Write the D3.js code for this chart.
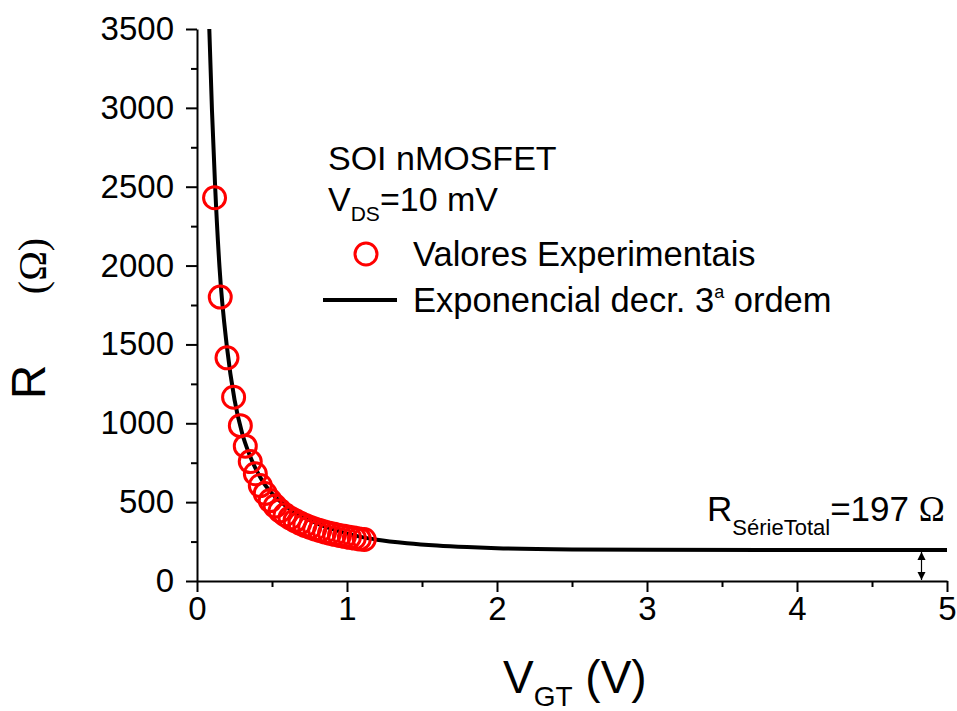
<!DOCTYPE html>
<html>
<head>
<meta charset="utf-8">
<script src="https://cdn.jsdelivr.net/npm/d3@7"></script>
<style>
  body { margin: 0; background: #fff; }
  text { font-family: "Liberation Sans", Arial, sans-serif; fill: #000; }
  .omega { font-family: "Liberation Serif", "DejaVu Serif", serif; }
</style>
</head>
<body>
<script>
// experimental points (V_GT in V, R in ohm)
var vgtExp = [0.117, 0.155, 0.200, 0.244, 0.289, 0.322, 0.355, 0.389, 0.422, 0.455,
              0.488, 0.521, 0.554, 0.587, 0.620, 0.653, 0.686, 0.719, 0.752, 0.785,
              0.818, 0.851, 0.884, 0.917, 0.950, 0.983, 1.016, 1.049, 1.082, 1.115];
var rExp   = [2430, 1800, 1415, 1165, 985, 855, 757, 680, 605, 555,
              510, 475, 445, 420, 400, 383, 367, 353, 341, 330,
              320, 311, 303, 296, 289, 283, 277, 272, 267, 263];

// fitted curve
var vgtFit = [0.082, 0.10, 0.12, 0.15, 0.20, 0.25, 0.30, 0.35, 0.40, 0.45, 0.50,
              0.60, 0.70, 0.80, 0.90, 1.0, 1.1, 1.2, 1.4, 1.6, 1.8, 2.0, 2.5, 3.0, 4.0, 5.0];
var rFit   = [3500, 2980, 2520, 1990, 1480, 1150, 940, 800, 695, 615, 555,
              470, 410, 365, 330, 300, 278, 262, 240, 225, 215, 208, 200, 198, 197, 197];

var xTicks = [0, 1, 2, 3, 4, 5];
var yTicks = [0, 500, 1000, 1500, 2000, 2500, 3000, 3500];
var rSerie = 197;
var arrowX = 4.83;

var width = 957, height = 711;
var margin = {top: 29, right: 10, bottom: 130, left: 197};

var svg = d3.select("body")
    .append("svg")
        .attr("width", width)
        .attr("height", height);

var xscale = d3.scaleLinear()
    .domain([0, 5])
    .range([margin.left, 947]);

var yscale = d3.scaleLinear()
    .domain([0, 3500])
    .range([581, 29]);

// minor ticks first, underneath
svg.append("g")
    .attr("transform", "translate(0,581)")
    .call(d3.axisBottom(xscale).tickValues(d3.range(0.5, 5, 1)).tickSize(6).tickFormat(""))
    .call(function(g) { g.select(".domain").remove(); g.selectAll("line").attr("stroke-width", 2); });

svg.append("g")
    .attr("transform", "translate(" + margin.left + ",0)")
    .call(d3.axisLeft(yscale).tickValues(d3.range(250, 3500, 500)).tickSize(6).tickFormat(""))
    .call(function(g) { g.select(".domain").remove(); g.selectAll("line").attr("stroke-width", 2); });

// main axes
var xAxis = svg.append("g")
    .attr("transform", "translate(0,581)")
    .call(d3.axisBottom(xscale).tickValues(xTicks).tickFormat(d3.format("d"))
        .tickSize(11).tickSizeOuter(0).tickPadding(5));

var yAxis = svg.append("g")
    .attr("transform", "translate(" + margin.left + ",0)")
    .call(d3.axisLeft(yscale).tickValues(yTicks).tickFormat(d3.format("d"))
        .tickSize(11).tickSizeOuter(0).tickPadding(12));

[xAxis, yAxis].forEach(function(a) {
    a.select(".domain").attr("stroke-width", 2);
    a.selectAll("line").attr("stroke-width", 2);
    a.selectAll("text")
        .style("font-family", "'Liberation Sans', Arial, sans-serif")
        .style("font-size", "33px")
        .attr("fill", "#000");
});

// fitted curve
var line = d3.line()
    .x(function(d) { return xscale(d[0]); })
    .y(function(d) { return yscale(d[1]); })
    .curve(d3.curveMonotoneX);

svg.append("path")
    .datum(d3.zip(vgtFit, rFit))
    .attr("d", line)
    .attr("fill", "none")
    .attr("stroke", "#000")
    .attr("stroke-width", 4);

// experimental points
svg.selectAll(".pt")
    .data(d3.zip(vgtExp, rExp))
    .enter()
    .append("circle")
        .attr("class", "pt")
        .attr("cx", function(d) { return xscale(d[0]); })
        .attr("cy", function(d) { return yscale(d[1]); })
        .attr("r", 11)
        .attr("fill", "none")
        .attr("stroke", "#ff0000")
        .attr("stroke-width", 3);

// double arrow showing R serie
var defs = svg.append("defs");
defs.append("marker")
    .attr("id", "ah")
    .attr("viewBox", "0 0 10 10")
    .attr("refX", 10).attr("refY", 5)
    .attr("markerWidth", 7).attr("markerHeight", 7)
    .attr("orient", "auto-start-reverse")
  .append("path")
    .attr("d", "M0,0 L10,5 L0,10 z")
    .attr("fill", "#000");

svg.append("line")
    .attr("x1", xscale(arrowX)).attr("x2", xscale(arrowX))
    .attr("y1", yscale(rSerie) + 2).attr("y2", yscale(0) - 1)
    .attr("stroke", "#000")
    .attr("stroke-width", 1.2)
    .attr("marker-start", "url(#ah)")
    .attr("marker-end", "url(#ah)");

// R serie label
var ann = svg.append("text")
    .attr("x", 707)
    .attr("y", 521)
    .style("font-size", "35px");
ann.append("tspan").text("R");
ann.append("tspan").attr("dy", 14).style("font-size", "22px").text("SérieTotal");
ann.append("tspan").attr("dy", -14).text("=197 ");
ann.append("tspan").attr("class", "omega").text("Ω");

// legend block
svg.append("text")
    .attr("x", 328).attr("y", 170)
    .style("font-size", "34px")
    .text("SOI nMOSFET");

var vds = svg.append("text")
    .attr("x", 328).attr("y", 211)
    .style("font-size", "34px");
vds.append("tspan").text("V");
vds.append("tspan").attr("dy", 10).style("font-size", "21px").text("DS");
vds.append("tspan").attr("dy", -10).text("=10 mV");

svg.append("circle")
    .attr("cx", 366).attr("cy", 254)
    .attr("r", 11)
    .attr("fill", "none")
    .attr("stroke", "#ff0000")
    .attr("stroke-width", 3);

svg.append("text")
    .attr("x", 413).attr("y", 266)
    .style("font-size", "34.5px")
    .text("Valores Experimentais");

svg.append("line")
    .attr("x1", 323).attr("x2", 397)
    .attr("y1", 300).attr("y2", 300)
    .attr("stroke", "#000")
    .attr("stroke-width", 4);

var fitLabel = svg.append("text")
    .attr("x", 413).attr("y", 312)
    .style("font-size", "34.5px");
fitLabel.append("tspan").text("Exponencial decr. 3");
fitLabel.append("tspan").attr("dy", -14).style("font-size", "18px").text("a");
fitLabel.append("tspan").attr("dy", 14).text(" ordem");

// x-axis label
var xl = svg.append("text")
    .attr("x", 503).attr("y", 693)
    .style("font-size", "46px");
xl.append("tspan").text("V");
xl.append("tspan").attr("dy", 13).style("font-size", "28px").text("GT");
xl.append("tspan").attr("dy", -13).text(" (V)");

// y-axis label
svg.append("text")
    .attr("transform", "translate(45,382) rotate(-90)")
    .style("text-anchor", "middle")
    .style("font-size", "48px")
    .text("R");

svg.append("text")
    .attr("class", "omega")
    .attr("transform", "translate(46,266) rotate(-90)")
    .style("text-anchor", "middle")
    .style("font-size", "40px")
    .text("(Ω)");
</script>
</body>
</html>
